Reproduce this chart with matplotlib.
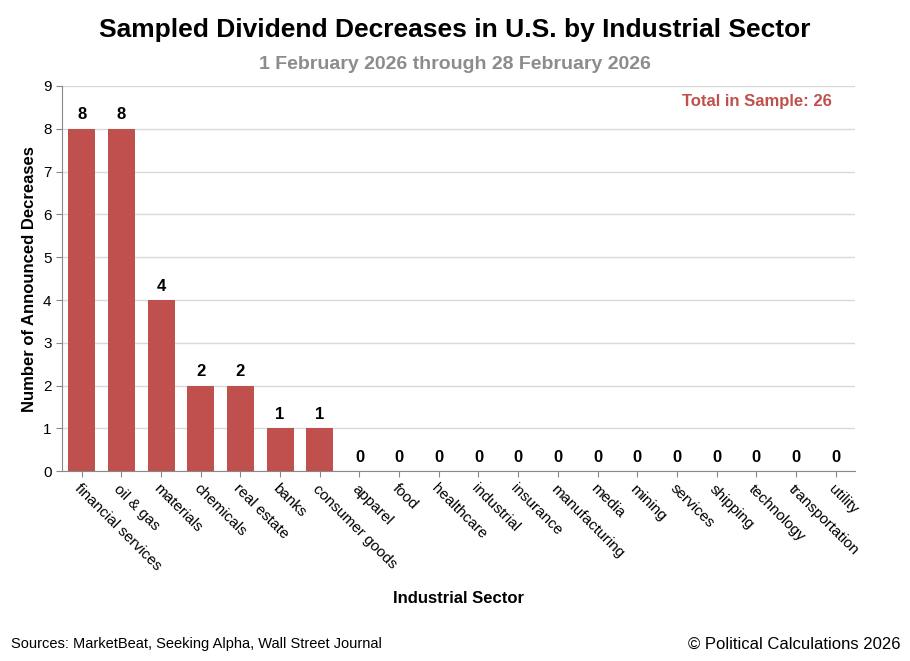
import matplotlib
matplotlib.use("Agg")
import matplotlib.pyplot as plt

sectors = ["financial services", "oil & gas", "materials", "chemicals", "real estate",
           "banks", "consumer goods", "apparel", "food", "healthcare", "industrial",
           "insurance", "manufacturing", "media", "mining", "services", "shipping",
           "technology", "transportation", "utility"]
counts = [8, 8, 4, 2, 2, 1, 1, 0, 0, 0, 0, 0, 0, 0, 0, 0, 0, 0, 0, 0]

plt.rcParams['font.family'] = ['Liberation Sans', 'DejaVu Sans']
fig = plt.figure(figsize=(9.1, 6.61), dpi=100)
ax = fig.add_axes([0.068, 0.287, 0.872, 0.583])
x = range(len(sectors))
ax.bar(x, counts, width=0.68, color="#C0504D", zorder=3)
for i, v in zip(x, counts):
    ax.text(i, v + 0.15, str(v), ha='center', va='bottom', fontsize=12, fontweight='bold')
ax.set_xlim(-0.5, len(sectors) - 0.5)
ax.set_ylim(0, 9)
ax.set_yticks(range(10))
ax.yaxis.grid(True, color="#D9D9D9", lw=1, zorder=0)
ax.set_xticks(list(x))
ax.set_xticklabels(sectors, rotation=-45, ha='left', va='top', rotation_mode='anchor', fontsize=11)
ax.tick_params(axis='y', labelsize=11, length=4, color="#888888")
ax.tick_params(axis='x', length=4, color="#888888")
for s in ['top', 'right']:
    ax.spines[s].set_visible(False)
for s in ['left', 'bottom']:
    ax.spines[s].set_color("#888888")
ax.set_ylabel("Number of Announced Decreases", fontsize=12, fontweight='bold')
ax.set_xlabel("Industrial Sector", fontsize=12, fontweight='bold', labelpad=8)
ax.xaxis.set_label_coords(0.5, -0.31)
ax.text(0.97, 0.96, "Total in Sample: 26", transform=ax.transAxes, ha='right', va='center',
        color="#C0504D", fontsize=12, fontweight='bold')
fig.text(0.5, 0.955, "Sampled Dividend Decreases in U.S. by Industrial Sector", ha='center',
         va='center', fontsize=19, fontweight='bold')
fig.text(0.5, 0.902, "1 February 2026 through 28 February 2026", ha='center', va='center',
         fontsize=14, fontweight='bold', color="#8C8C8C")
fig.text(0.012, 0.025, "Sources: MarketBeat, Seeking Alpha, Wall Street Journal", fontsize=10.5, va='center')
fig.text(0.99, 0.025, "© Political Calculations 2026", fontsize=12, ha='right', va='center')
fig.savefig("out.png", dpi=100)
